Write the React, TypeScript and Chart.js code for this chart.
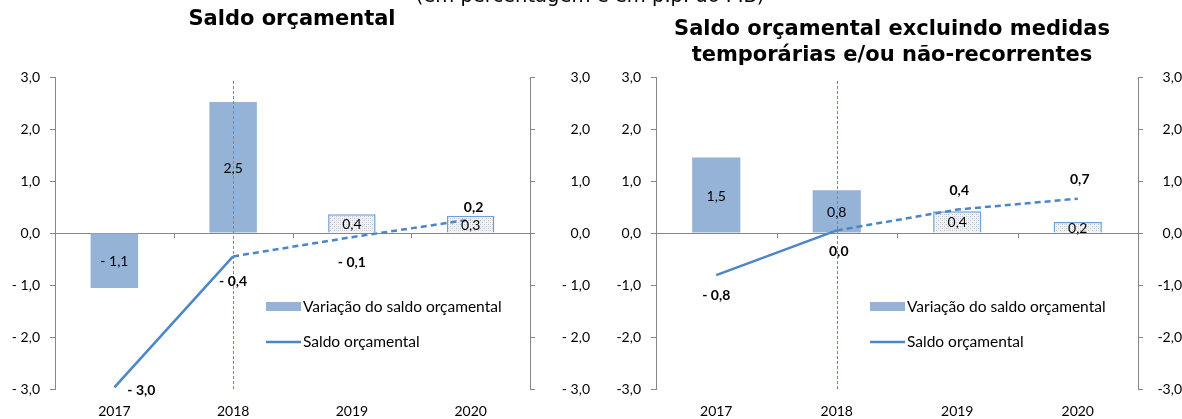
import React, { useEffect, useRef } from 'react';
import { Chart, registerables } from 'chart.js';

Chart.register(...registerables);

// ---------- data ----------
const years = ['2017', '2018', '2019', '2020'];
const tickValues = [-3, -2, -1, 0, 1, 2, 3];
const leftTickLabels = ['- 3,0', '- 2,0', '- 1,0', '0,0', '1,0', '2,0', '3,0'];
const rightTickLabels = ['-3,0', '-2,0', '-1,0', '0,0', '1,0', '2,0', '3,0'];

const leftBars = [-1.06, 2.52, 0.36, 0.33];
const leftBarLabels = ['- 1,1', '2,5', '0,4', '0,3'];
const leftLine = [-2.97, -0.45, -0.08, 0.26];
const leftLineLabels = ['- 3,0', '- 0,4', '- 0,1', '0,2'];

const rightBars = [1.45, 0.82, 0.42, 0.21];
const rightBarLabels = ['1,5', '0,8', '0,4', '0,2'];
const rightLine = [-0.81, 0.05, 0.45, 0.66];
const rightLineLabels = ['- 0,8', '0,0', '0,4', '0,7'];

const legendBar = 'Variação do saldo orçamental';
const legendLine = 'Saldo orçamental';

// ---------- styles ----------
const FONT = 'Lato';
const AXIS = '#868686';
const BAR = '#95B3D7';
const BAR_EDGE = '#6A9FD8';
const LINE = '#4A86C8';

function makePattern(ctx: CanvasRenderingContext2D) {
  const c = document.createElement('canvas');
  c.width = 4;
  c.height = 4;
  const g = c.getContext('2d')!;
  g.fillStyle = '#F1F3F7';
  g.fillRect(0, 0, 4, 4);
  g.fillStyle = '#B9C0CC';
  g.fillRect(0, 0, 1, 1);
  g.fillRect(2, 2, 1, 1);
  g.fillStyle = '#D6DBE3';
  g.fillRect(2, 0, 1, 1);
  g.fillRect(0, 2, 1, 1);
  return ctx.createPattern(c, 'repeat')!;
}

type PanelProps = {
  left: number;
  width: number;
  yWidth: number;
  y2Width: number;
  y2Pad: number;
  tickLabels: string[];
  bars: number[];
  barLabels: string[];
  line: number[];
  lineLabels: string[];
  lineLabelOffsets: [number, number][];
  legendDX: number;
};

function Panel(p: PanelProps) {
  const ref = useRef<HTMLCanvasElement>(null);
  useEffect(() => {
    const canvas = ref.current!;
    const ctx = canvas.getContext('2d')!;
    const pattern = makePattern(ctx);
    const tickCb = (v: any) => {
      const i = tickValues.indexOf(Math.round(Number(v)));
      return i >= 0 ? p.tickLabels[i] : '';
    };

    const decor = {
      id: 'decor',
      beforeDatasetsDraw(chart: any) {
        const { ctx: c, chartArea: ca } = chart;
        const y0 = chart.scales.y.getPixelForValue(0);
        c.save();
        c.strokeStyle = AXIS;
        c.lineWidth = 1;
        c.beginPath();
        c.moveTo(ca.left, Math.round(y0) + 0.5);
        c.lineTo(ca.right, Math.round(y0) + 0.5);
        const step = (ca.right - ca.left) / years.length;
        for (let i = 1; i < years.length; i++) {
          const x = Math.round(ca.left + step * i) + 0.5;
          c.moveTo(x, y0);
          c.lineTo(x, y0 + 5);
        }
        c.stroke();
        c.restore();
      },
      afterDatasetsDraw(chart: any) {
        const { ctx: c, chartArea: ca } = chart;
        c.save();
        // vertical dashed marker at 2018
        const xm = Math.round(chart.scales.x.getPixelForValue(1)) + 0.5;
        c.strokeStyle = '#3F95E6';
        c.lineWidth = 1;
        c.setLineDash([3, 2]);
        c.beginPath();
        c.moveTo(xm, ca.top + 4);
        c.lineTo(xm, ca.bottom + 1);
        c.stroke();
        c.setLineDash([]);

        // bar labels
        c.font = `14px ${FONT}`;
        c.fillStyle = '#000';
        c.textAlign = 'center';
        c.textBaseline = 'middle';
        const bm = chart.getDatasetMeta(1);
        bm.data.forEach((el: any, i: number) => {
          c.fillText(p.barLabels[i], el.x, (el.y + el.base) / 2 + 1);
        });
        // line labels
        c.font = `bold 14px ${FONT}`;
        const lm = chart.getDatasetMeta(0);
        lm.data.forEach((el: any, i: number) => {
          const [dx, dy] = p.lineLabelOffsets[i];
          c.fillText(p.lineLabels[i], el.x + dx, el.y + dy);
        });

        // legend
        const lx = ca.left + p.legendDX;
        c.fillStyle = BAR;
        c.fillRect(lx, 302, 35, 9);
        c.strokeStyle = LINE;
        c.lineWidth = 2.5;
        c.beginPath();
        c.moveTo(lx, 342);
        c.lineTo(lx + 35, 342);
        c.stroke();
        c.fillStyle = '#000';
        c.font = `15.5px ${FONT}`;
        c.textAlign = 'left';
        c.fillText(legendBar, lx + 37, 307);
        c.fillText(legendLine, lx + 37, 342);
        c.restore();
      },
    };

    const chart = new Chart(canvas, {
      type: 'bar',
      data: {
        labels: years,
        datasets: [
          {
            type: 'line',
            label: legendLine,
            data: p.line,
            borderColor: LINE,
            borderWidth: 2.5,
            pointRadius: 0,
            fill: false,
            tension: 0,
            order: 0,
            segment: {
              borderDash: (sc: any) => (sc.p0DataIndex >= 1 ? [6, 4] : []),
            },
          } as any,
          {
            type: 'bar',
            label: legendBar,
            data: p.bars,
            backgroundColor: [BAR, BAR, pattern, pattern],
            borderColor: [BAR, BAR, BAR_EDGE, BAR_EDGE],
            borderWidth: [0, 0, 1.5, 1.5],
            barPercentage: 0.4,
            categoryPercentage: 1,
            order: 1,
          } as any,
        ],
      },
      options: {
        animation: false,
        responsive: false,
        devicePixelRatio: 1,
        layout: { padding: { top: 77, bottom: 0, left: 0, right: 0 } },
        plugins: { legend: { display: false }, tooltip: { enabled: false }, title: { display: false } },
        scales: {
          x: {
            grid: { display: false, drawTicks: false },
            border: { display: false },
            ticks: { padding: 14, color: '#000', font: { family: FONT, size: 14 } },
            afterFit: (s: any) => {
              s.height = 30;
            },
          },
          y: {
            position: 'left',
            min: -3,
            max: 3,
            grid: { drawOnChartArea: false, color: AXIS, tickLength: 5 },
            border: { color: AXIS, width: 1 },
            ticks: { stepSize: 1, padding: 10, color: '#000', font: { family: FONT, size: 14 }, callback: tickCb },
            afterFit: (s: any) => {
              s.width = p.yWidth;
            },
          },
          y2: {
            position: 'right',
            min: -3,
            max: 3,
            grid: { drawOnChartArea: false, color: AXIS, tickLength: 5 },
            border: { color: AXIS, width: 1 },
            ticks: {
              stepSize: 1,
              padding: p.y2Pad,
              crossAlign: 'far',
              color: '#000',
              font: { family: FONT, size: 14 },
              callback: tickCb,
            },
            afterFit: (s: any) => {
              s.width = p.y2Width;
            },
          },
        },
      } as any,
      plugins: [decor],
    });
    return () => chart.destroy();
  }, []);
  return (
    <canvas
      ref={ref}
      width={p.width}
      height={419}
      style={{ position: 'absolute', left: p.left, top: 0, width: p.width, height: 419 }}
    />
  );
}

export default function App() {
  const titleStyle: React.CSSProperties = {
    position: 'absolute',
    fontFamily: 'DejaVu Sans',
    fontWeight: 'bold',
    fontSize: 21,
    color: '#000',
    textAlign: 'center',
    whiteSpace: 'nowrap',
    lineHeight: '26px',
  };
  return (
    <div style={{ position: 'absolute', left: 0, top: 0, width: 1182, height: 419, overflow: 'hidden', background: '#fff' }}>
      <Panel
        left={0}
        width={590}
        yWidth={55}
        y2Width={60}
        y2Pad={8}
        tickLabels={leftTickLabels}
        bars={leftBars}
        barLabels={leftBarLabels}
        line={leftLine}
        lineLabels={leftLineLabels}
        lineLabelOffsets={[[27, 3], [0, 25], [0, 25], [3, -12]]}
        legendDX={211}
      />
      <Panel
        left={590}
        width={592}
        yWidth={66}
        y2Width={44}
        y2Pad={5}
        tickLabels={rightTickLabels}
        bars={rightBars}
        barLabels={rightBarLabels}
        line={rightLine}
        lineLabels={rightLineLabels}
        lineLabelOffsets={[[0, 20], [2, 21], [2, -19], [2, -19]]}
        legendDX={214}
      />
      <div
        style={{
          position: 'absolute',
          left: 340,
          width: 500,
          top: -15,
          fontFamily: 'DejaVu Sans',
          fontSize: 19.5,
          lineHeight: '22px',
          textAlign: 'center',
          color: '#000',
          whiteSpace: 'nowrap',
        }}
      >
        (em percentagem e em p.p. do PIB)
      </div>
      <div style={{ ...titleStyle, left: 92, width: 400, top: 5 }}>Saldo orçamental</div>
      <div style={{ ...titleStyle, left: 647, width: 490, top: 15 }}>
        Saldo orçamental excluindo medidas
        <br />
        temporárias e/ou não-recorrentes
      </div>
    </div>
  );
}
